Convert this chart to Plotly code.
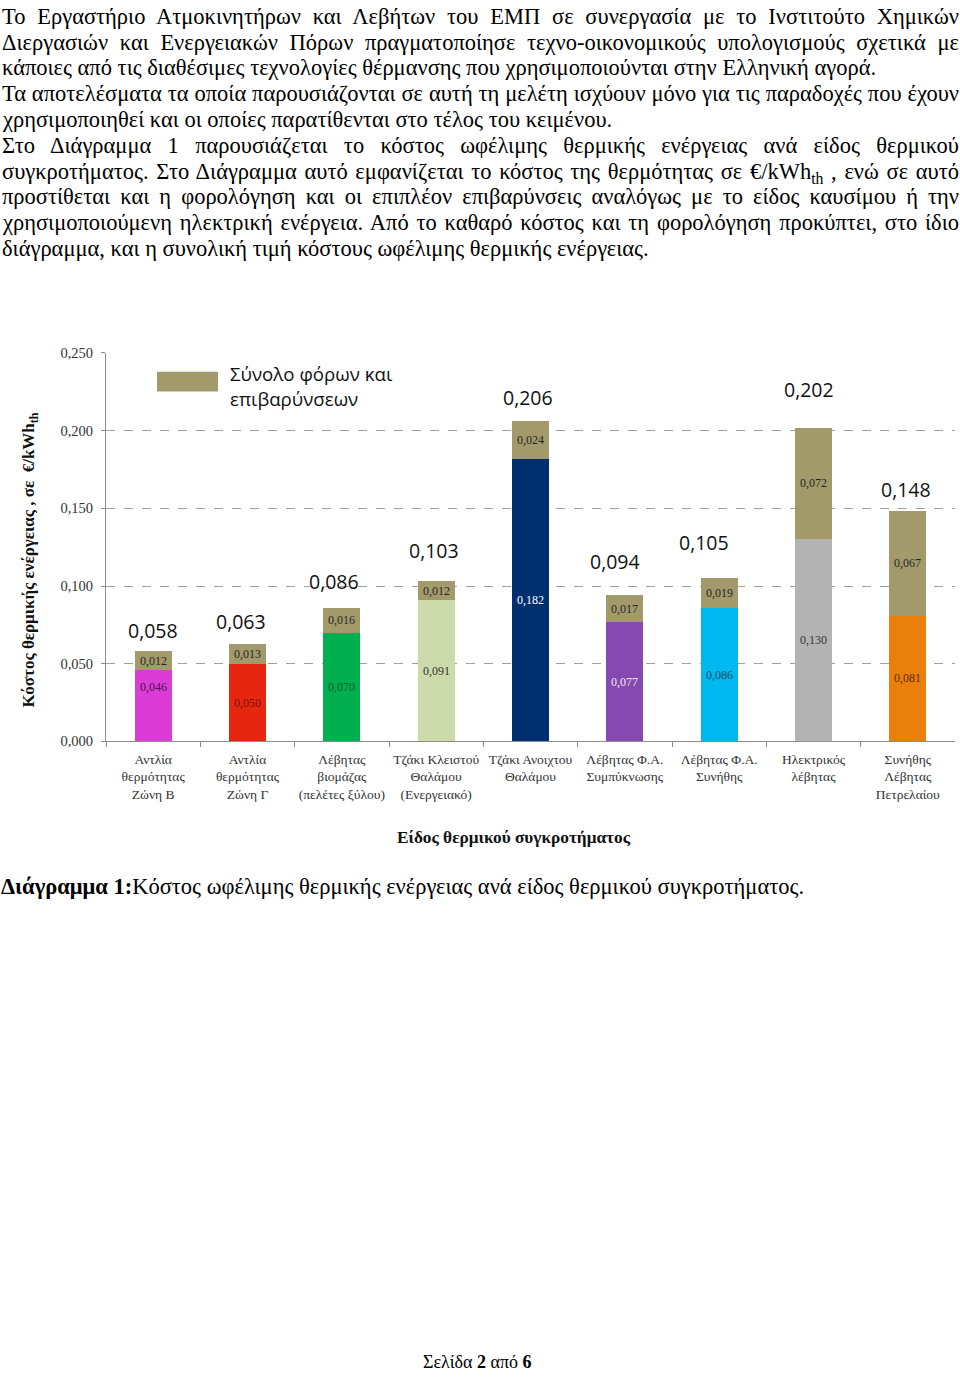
import json
import plotly.graph_objects as go

W, H = 960, 1382
SERIF = "Liberation Serif, Times New Roman, serif"
SANS = "Open Sans, Noto Sans, sans-serif"

# ---------------- data ----------------
categories = [
    "Αντλία<br>θερμότητας<br>Ζώνη Β",
    "Αντλία<br>θερμότητας<br>Ζώνη Γ",
    "Λέβητας<br>βιομάζας<br>(πελέτες ξύλου)",
    "Τζάκι Κλειστού<br>Θαλάμου<br>(Ενεργειακό)",
    "Τζάκι Ανοιχτου<br>Θαλάμου",
    "Λέβητας Φ.Α.<br>Συμπύκνωσης",
    "Λέβητας Φ.Α.<br>Συνήθης",
    "Ηλεκτρικός<br>λέβητας",
    "Συνήθης<br>Λέβητας<br>Πετρελαίου",
]
net_cost = [0.046, 0.050, 0.070, 0.091, 0.182, 0.077, 0.086, 0.130, 0.081]
tax_cost = [0.012, 0.013, 0.016, 0.012, 0.024, 0.017, 0.019, 0.072, 0.067]
total_cost = [0.058, 0.063, 0.086, 0.103, 0.206, 0.094, 0.105, 0.202, 0.148]
y_ticks = [0.0, 0.05, 0.10, 0.15, 0.20, 0.25]

legend_name = "Σύνολο φόρων και επιβαρύνσεων"
y_title = "Κόστος θερμικής ενέργειας , σε  €/kWh<sub>th</sub>"
x_title = "Είδος θερμικού συγκροτήματος"

page_lines = [
    "Το Εργαστήριο Ατμοκινητήρων και Λεβήτων του ΕΜΠ σε συνεργασία με το Ινστιτούτο Χημικών",
    "Διεργασιών και Ενεργειακών Πόρων πραγματοποίησε τεχνο-οικονομικούς υπολογισμούς σχετικά με",
    "κάποιες από τις διαθέσιμες τεχνολογίες θέρμανσης που χρησιμοποιούνται στην Ελληνική αγορά.",
    "Τα αποτελέσματα τα οποία παρουσιάζονται σε αυτή τη μελέτη ισχύουν μόνο για τις παραδοχές που έχουν",
    "χρησιμοποιηθεί και οι οποίες παρατίθενται στο τέλος του κειμένου.",
    "Στο Διάγραμμα 1 παρουσιάζεται το κόστος ωφέλιμης θερμικής ενέργειας ανά είδος θερμικού",
    "συγκροτήματος. Στο Διάγραμμα αυτό εμφανίζεται το κόστος της θερμότητας σε €/kWh<sub>th</sub> , ενώ σε αυτό",
    "προστίθεται και η φορολόγηση και οι επιπλέον επιβαρύνσεις αναλόγως με το είδος καυσίμου ή την",
    "χρησιμοποιούμενη ηλεκτρική ενέργεια. Από το καθαρό κόστος και τη φορολόγηση προκύπτει, στο ίδιο",
    "διάγραμμα, και η συνολική τιμή κόστους ωφέλιμης θερμικής ενέργειας.",
]
justified_lines = [True, True, False, True, False, True, True, True, True, False]
caption_bold = "Διάγραμμα 1:"
caption_text = "Κόστος ωφέλιμης θερμικής ενέργειας ανά είδος θερμικού συγκροτήματος."
footer_text = "Σελίδα <b>2</b> από <b>6</b>"

# ---------------- styles ----------------
net_colors = ["#DC3CD6", "#E6260F", "#00B050", "#CCDBA9", "#002F6F",
              "#8549AF", "#00B8F0", "#B3B3B3", "#E8800B"]
net_label_colors = ["#4E0F55", "#7A1208", "#145A28", "#333333", "#FFFFFF",
                    "#F0E6F6", "#0D4E66", "#333333", "#6A2608"]
tax_color = "#A39A6B"
# manual label nudges (pixels) as in the original chart
total_dy = [21, 22, 26, 31, 24, 34, 36, 38, 22]
total_dx = [0, -7, -8, -2, -3, -10, -15, -5, -2]
net_dy = [19, 0, 0, 0, 0, 0, 0, 0, 0]

TEXT_SIZE = 22.5
LINE0_Y = 8.5
LINE_STEP = 26.05
TEXT_LEFT = 1
TEXT_RIGHT = 958


def fmt(v):
    return f"{v:.3f}".replace(".", ",")


def px(x):
    return x / W


def py(y):
    return 1 - y / H


fig = go.Figure()
fig.add_trace(go.Bar(x=categories, y=net_cost, marker=dict(color=net_colors, line=dict(width=0)),
                     name="Καθαρό κόστος", showlegend=False, hoverinfo="skip"))
fig.add_trace(go.Bar(x=categories, y=tax_cost, marker=dict(color=tax_color, line=dict(width=0)),
                     name=legend_name, showlegend=False, hoverinfo="skip"))

ann = []
for i, c in enumerate(categories):
    ann.append(dict(x=c, y=net_cost[i] / 2, xref="x", yref="y", text=fmt(net_cost[i]),
                    showarrow=False, yshift=net_dy[i],
                    font=dict(family=SERIF, size=12, color=net_label_colors[i])))
    ann.append(dict(x=c, y=net_cost[i] + tax_cost[i] / 2, xref="x", yref="y", text=fmt(tax_cost[i]),
                    showarrow=False, font=dict(family=SERIF, size=12, color="#262626")))
    ann.append(dict(x=c, y=total_cost[i], xref="x", yref="y", text=fmt(total_cost[i]),
                    showarrow=False, yshift=total_dy[i], xshift=total_dx[i], yanchor="middle",
                    font=dict(family=SANS, size=19.5, color="#111111")))

# legend (swatch + text)
shapes = [dict(type="rect", xref="paper", yref="paper", x0=px(157), x1=px(218), y0=py(388), y1=py(368),
               fillcolor=tax_color, line=dict(width=0))]
ann.append(dict(x=px(228), y=py(370), xref="paper", yref="paper", text="Σύνολο φόρων και",
                showarrow=False, xanchor="left", yanchor="middle",
                font=dict(family=SANS, size=18.7, color="#111111")))
ann.append(dict(x=px(228), y=py(395), xref="paper", yref="paper", text="επιβαρύνσεων",
                showarrow=False, xanchor="left", yanchor="middle",
                font=dict(family=SANS, size=18.7, color="#111111")))

# axis titles
ann.append(dict(x=px(30), y=py(559), xref="paper", yref="paper", text="<b>" + y_title + "</b>",
                showarrow=False, textangle=-90, xanchor="center", yanchor="middle",
                font=dict(family=SERIF, size=17, color="#111111")))
ann.append(dict(x=px(514), y=py(839), xref="paper", yref="paper", text="<b>" + x_title + "</b>",
                showarrow=False, xanchor="center", yanchor="middle",
                font=dict(family=SERIF, size=17.3, color="#111111")))

# ---------------- page text ----------------
justify_idx = []
for li, s in enumerate(page_lines):
    yc = LINE0_Y + li * LINE_STEP + (2.6 if "<sub>" in s else 0)
    if justified_lines[li]:
        justify_idx.append(len(ann))
    ann.append(dict(x=px(TEXT_LEFT), y=py(yc), xref="paper", yref="paper", text=s, showarrow=False,
                    xanchor="left", yanchor="middle", align="left", borderpad=0,
                    font=dict(family=SERIF, size=TEXT_SIZE, color="black")))

# caption and footer
ann.append(dict(x=px(0), y=py(888.5), xref="paper", yref="paper",
                text="<b>" + caption_bold + "</b>" + caption_text,
                showarrow=False, xanchor="left", yanchor="middle", borderpad=0,
                font=dict(family=SERIF, size=TEXT_SIZE, color="black")))
ann.append(dict(x=px(477), y=py(1370), xref="paper", yref="paper",
                text=footer_text, showarrow=False, xanchor="center", yanchor="middle", borderpad=0,
                font=dict(family=SERIF, size=18, color="black")))

fig.update_layout(
    width=W, height=H,
    margin=dict(l=0, r=0, t=0, b=0),
    paper_bgcolor="white", plot_bgcolor="white",
    barmode="stack", bargap=0.605,
    separators=",.",
    showlegend=False,
    annotations=ann, shapes=shapes,
    xaxis=dict(domain=[px(106), px(955)], type="category", showline=True, linecolor="#8C8C8C",
               linewidth=1, ticks="outside", tickson="boundaries", ticklen=5, tickcolor="#8C8C8C",
               ticklabelstandoff=5, tickangle=0,
               tickfont=dict(family=SERIF, size=13.5, color="#333333"), showgrid=False),
    yaxis=dict(domain=[py(742), py(349)], range=[0, 0.25], tickvals=y_ticks, tickformat=".3f",
               showline=True, linecolor="#8C8C8C", linewidth=1, ticks="outside", ticklen=4,
               tickcolor="#8C8C8C", tickfont=dict(family=SERIF, size=14.5, color="#333333"),
               ticklabelstandoff=5,
               showgrid=True, gridcolor="#A0A0A0", griddash="dash", gridwidth=1, zeroline=False),
)

# page layout: no body margin; justify the full-width paragraph lines like the source document
post_js = """
document.body.style.margin = '0';
(function(){
  var idx = %s, target = %f;
  function justify(){
    var gd = document.getElementById('{plot_id}');
    if(!gd) return;
    idx.forEach(function(i){
      var g = gd.querySelector('.annotation[data-index="' + i + '"]');
      if(!g) return;
      var t = g.querySelector('text.annotation-text');
      if(!t) return;
      t.style.wordSpacing = '0px';
      var w = t.getBBox().width;
      var n = (t.textContent.match(/ /g) || []).length;
      if(n > 0 && w < target) t.style.wordSpacing = ((target - w) / n) + 'px';
    });
  }
  justify();
  setTimeout(justify, 100);
  setTimeout(justify, 500);
})();
""" % (json.dumps(justify_idx), TEXT_RIGHT - TEXT_LEFT)

fig.write_html("out.html", post_script=post_js, config={"displayModeBar": False, "staticPlot": True})
